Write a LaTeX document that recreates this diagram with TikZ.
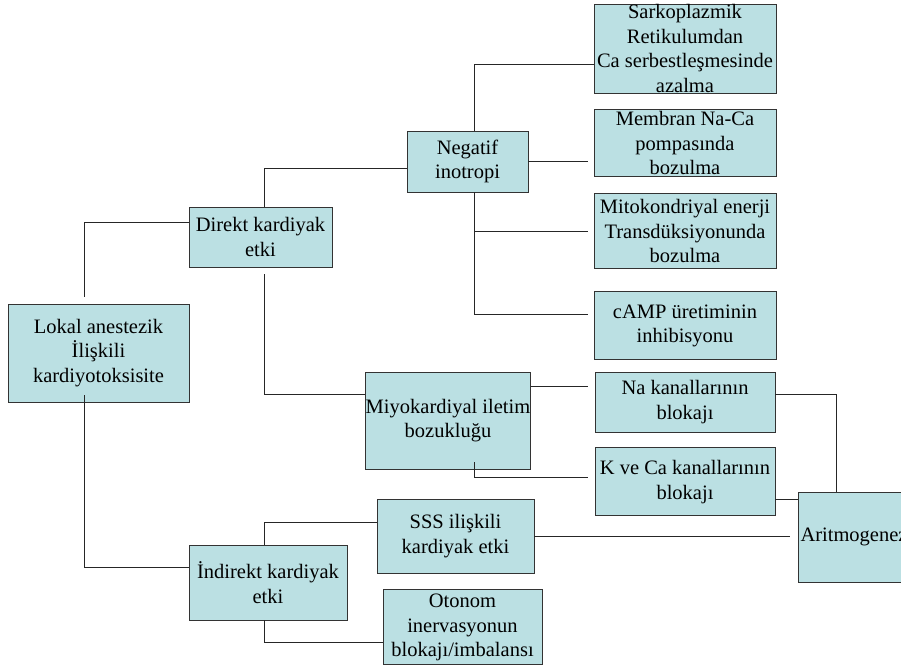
\documentclass[tikz,border=0pt]{standalone}
\usepackage{fontspec}
\setmainfont{Liberation Serif}
\usetikzlibrary{positioning}
\definecolor{kutumavi}{RGB}{187,224,227}
\newcommand{\metin}{\fontsize{20.5}{24.5}\selectfont}
\tikzset{
    kutu/.style={draw=black!80, fill=kutumavi, line width=0.9pt, inner sep=0pt, align=center, font=\metin},
    bag/.style={draw=black!85, line width=0.9pt}
}

\begin{document}
\begin{tikzpicture}[x=1pt, y=-1pt]
        \useasboundingbox (0,0) rectangle (901,671);
        \clip (0,0) rectangle (901,671);
        \node[kutu, minimum width=181pt, minimum height=98pt] (lokal) at (98.5,353) {Lokal anestezik\\İlişkili\\kardiyotoksisite};
        \node[kutu, minimum width=143pt, minimum height=60pt] (direkt) at (260.5,237) {Direkt kardiyak\\etki};
        \node[kutu, minimum width=158pt, minimum height=75pt] (indirekt) at (268,582.5) {İndirekt kardiyak\\etki};
        \node[kutu, minimum width=121pt, minimum height=61pt] (negatif) at (467.5,161.5) {Negatif\\inotropi};
        \node[kutu, minimum width=158pt, minimum height=97pt] (miyo) at (448,420.5) {Miyokardiyal iletim\\bozukluğu};
        \node[kutu, minimum width=182pt, minimum height=89pt] (sarko) at (685,48.5) {Sarkoplazmik\\Retikulumdan\\Ca serbestleşmesinde\\azalma};
        \node[kutu, minimum width=182pt, minimum height=67pt, below=16pt of sarko] (membran) {Membran Na-Ca\\pompasında\\bozulma};
        \node[kutu, minimum width=182pt, minimum height=75pt, below=16pt of membran] (mito) {Mitokondriyal enerji\\Transdüksiyonunda\\bozulma};
        \node[kutu, minimum width=182pt, minimum height=68pt, below=22pt of mito] (camp) {cAMP üretiminin\\inhibisyonu};
        \node[kutu, minimum width=180pt, minimum height=60pt] (na) at (685,402) {Na kanallarının\\blokajı};
        \node[kutu, minimum width=180pt, minimum height=68pt, below=15pt of na] (kca) {K ve Ca kanallarının\\blokajı};
        \node[kutu, minimum width=157pt, minimum height=74pt] (sss) at (455.5,536) {SSS ilişkili\\kardiyak etki};
        \node[kutu, minimum width=159pt, minimum height=75pt, below=16pt of sss, xshift=7pt] (otonom) {Otonom\\inervasyonun\\blokajı/imbalansı};
        \node[kutu, minimum width=112pt, minimum height=90pt] (arit) at (854,537) {Aritmogenez};

        \draw[bag] ([xshift=-14.5pt, yshift=7pt]lokal.north) |- ([yshift=15pt]direkt.west);
        \draw[bag] ([xshift=-14.5pt, yshift=7pt]lokal.south) |- ([yshift=15.5pt]indirekt.west);
        \draw[bag] ([xshift=3.5pt]direkt.north) |- ([yshift=-6.5pt]negatif.west);
        \draw[bag] ([xshift=3.5pt, yshift=-7pt]direkt.south) |- ([yshift=26.5pt]miyo.west);
        \draw[bag] ([xshift=6.5pt]negatif.north) |- ([yshift=-15.5pt]sarko.west);
        \draw[bag, shorten >=6pt] (negatif.east) -- (negatif.east -| membran.west);
        \draw[bag, shorten >=6pt] ([xshift=6.5pt]negatif.south) |- (mito.west);
        \draw[bag, shorten >=6pt] ([xshift=6.5pt]negatif.south) |- ([yshift=11pt]camp.west);
        \draw[bag, shorten >=7pt] ([yshift=34.5pt]miyo.east) -- ([yshift=34.5pt]miyo.east -| na.west);
        \draw[bag, shorten >=7pt] ([xshift=26pt, yshift=7pt]miyo.south) |- ([yshift=4pt]kca.west);
        \draw[bag] ([yshift=8pt]na.east) -| ([xshift=-18pt]arit.north);
        \draw[bag] ([yshift=-18pt]kca.east) -- ([yshift=-18pt]kca.east -| arit.west);
        \draw[bag, shorten >=8pt] (sss.east) -- (sss.east -| arit.west);
        \draw[bag] ([xshift=-4pt]indirekt.north) |- ([yshift=14pt]sss.west);
        \draw[bag] ([xshift=-4pt]indirekt.south) |- ([yshift=-15.5pt]otonom.west);
\end{tikzpicture}
\end{document}
